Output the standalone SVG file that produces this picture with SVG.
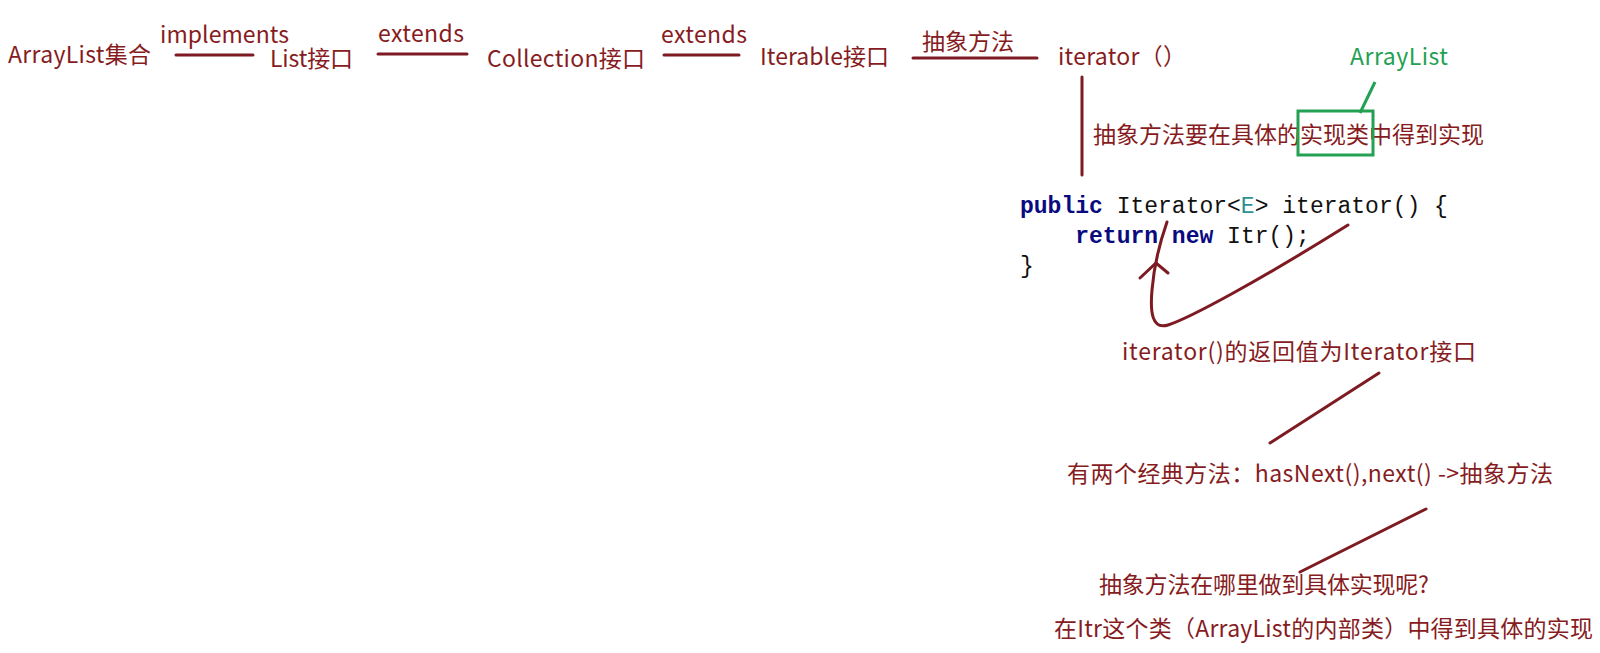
<svg xmlns="http://www.w3.org/2000/svg" width="1600" height="653" viewBox="0 0 1600 653">
<style>
.t{font-family:"Noto Sans CJK SC","Noto Sans",sans-serif;font-size:23px;fill:#861c22}
.g{font-family:"Noto Sans CJK SC","Noto Sans",sans-serif;font-size:23px;fill:#23a052}
.code{font-family:"Liberation Mono","DejaVu Sans Mono",monospace;font-size:23px;fill:#111}
.kw{fill:#0a0a80;font-weight:bold}
.ty{fill:#2b9191}
.ln{stroke:#7d1a22;stroke-width:3;fill:none;stroke-linecap:round}
.gl{stroke:#23a052;stroke-width:3;fill:none}
</style>
<rect width="1600" height="653" fill="#fff"/>
<g id="arraylist"><text class="t" x="8" y="63" textLength="143">ArrayList集合</text></g>
<g id="implements"><text class="t" x="160" y="43" textLength="129">implements</text></g>
<g id="list"><text class="t" x="270" y="67" textLength="83">List接口</text></g>
<g id="extends1"><text class="t" x="378" y="42" textLength="86">extends</text></g>
<g id="collection"><text class="t" x="487" y="67" textLength="158">Collection接口</text></g>
<g id="extends2"><text class="t" x="661" y="43" textLength="86">extends</text></g>
<g id="iterable"><text class="t" x="760" y="65" textLength="129">Iterable接口</text></g>
<g id="abstract"><text class="t" x="922" y="50" textLength="92">抽象方法</text></g>
<g id="iterator"><text class="t" x="1058" y="65" textLength="128">iterator（）</text></g>
<g id="arraylist-green"><text class="g" x="1350" y="65" textLength="98">ArrayList</text></g>
<g id="note1"><text class="t" x="1093" y="143" textLength="391">抽象方法要在具体的实现类中得到实现</text>
<rect class="gl" x="1298" y="111" width="75" height="44"/></g>
<g id="code">
<text class="code" x="1020" y="213"><tspan class="kw">public</tspan> Iterator&lt;<tspan class="ty">E</tspan>&gt; iterator() {</text>
<text class="code" x="1020" y="243" xml:space="preserve">    <tspan class="kw">return</tspan> <tspan class="kw">new</tspan> Itr();</text>
<text class="code" x="1020" y="273">}</text>
</g>
<g id="note2"><text class="t" x="1122" y="360" textLength="354">iterator()的返回值为Iterator接口</text></g>
<g id="note3"><text class="t" x="1067" y="482" textLength="486">有两个经典方法：hasNext(),next() -&gt;抽象方法</text></g>
<g id="note4"><text class="t" x="1099" y="593" textLength="330">抽象方法在哪里做到具体实现呢?</text></g>
<g id="note5"><text class="t" x="1054" y="637" textLength="539">在Itr这个类（ArrayList的内部类）中得到具体的实现</text></g>
<g id="connectors">
<line class="ln" x1="176" y1="55" x2="253" y2="55"/>
<line class="ln" x1="378" y1="54" x2="467" y2="54"/>
<line class="ln" x1="664" y1="55" x2="739" y2="55"/>
<line class="ln" x1="913" y1="58" x2="1037" y2="58"/>
<line class="ln" x1="1082" y1="77" x2="1082" y2="175"/>
<line class="gl" x1="1375" y1="82" x2="1360" y2="113"/>
<path class="ln" d="M1348 225 C1260 280 1190 318 1168 325 C1152 330 1150 312 1152 290 C1154 265 1160 242 1167 222"/>
<path class="ln" d="M1140 278 L1156 263 L1168 273"/>
<line class="ln" x1="1379" y1="373" x2="1270" y2="443"/>
<line class="ln" x1="1426" y1="509" x2="1300" y2="572"/>
</g>
</svg>
